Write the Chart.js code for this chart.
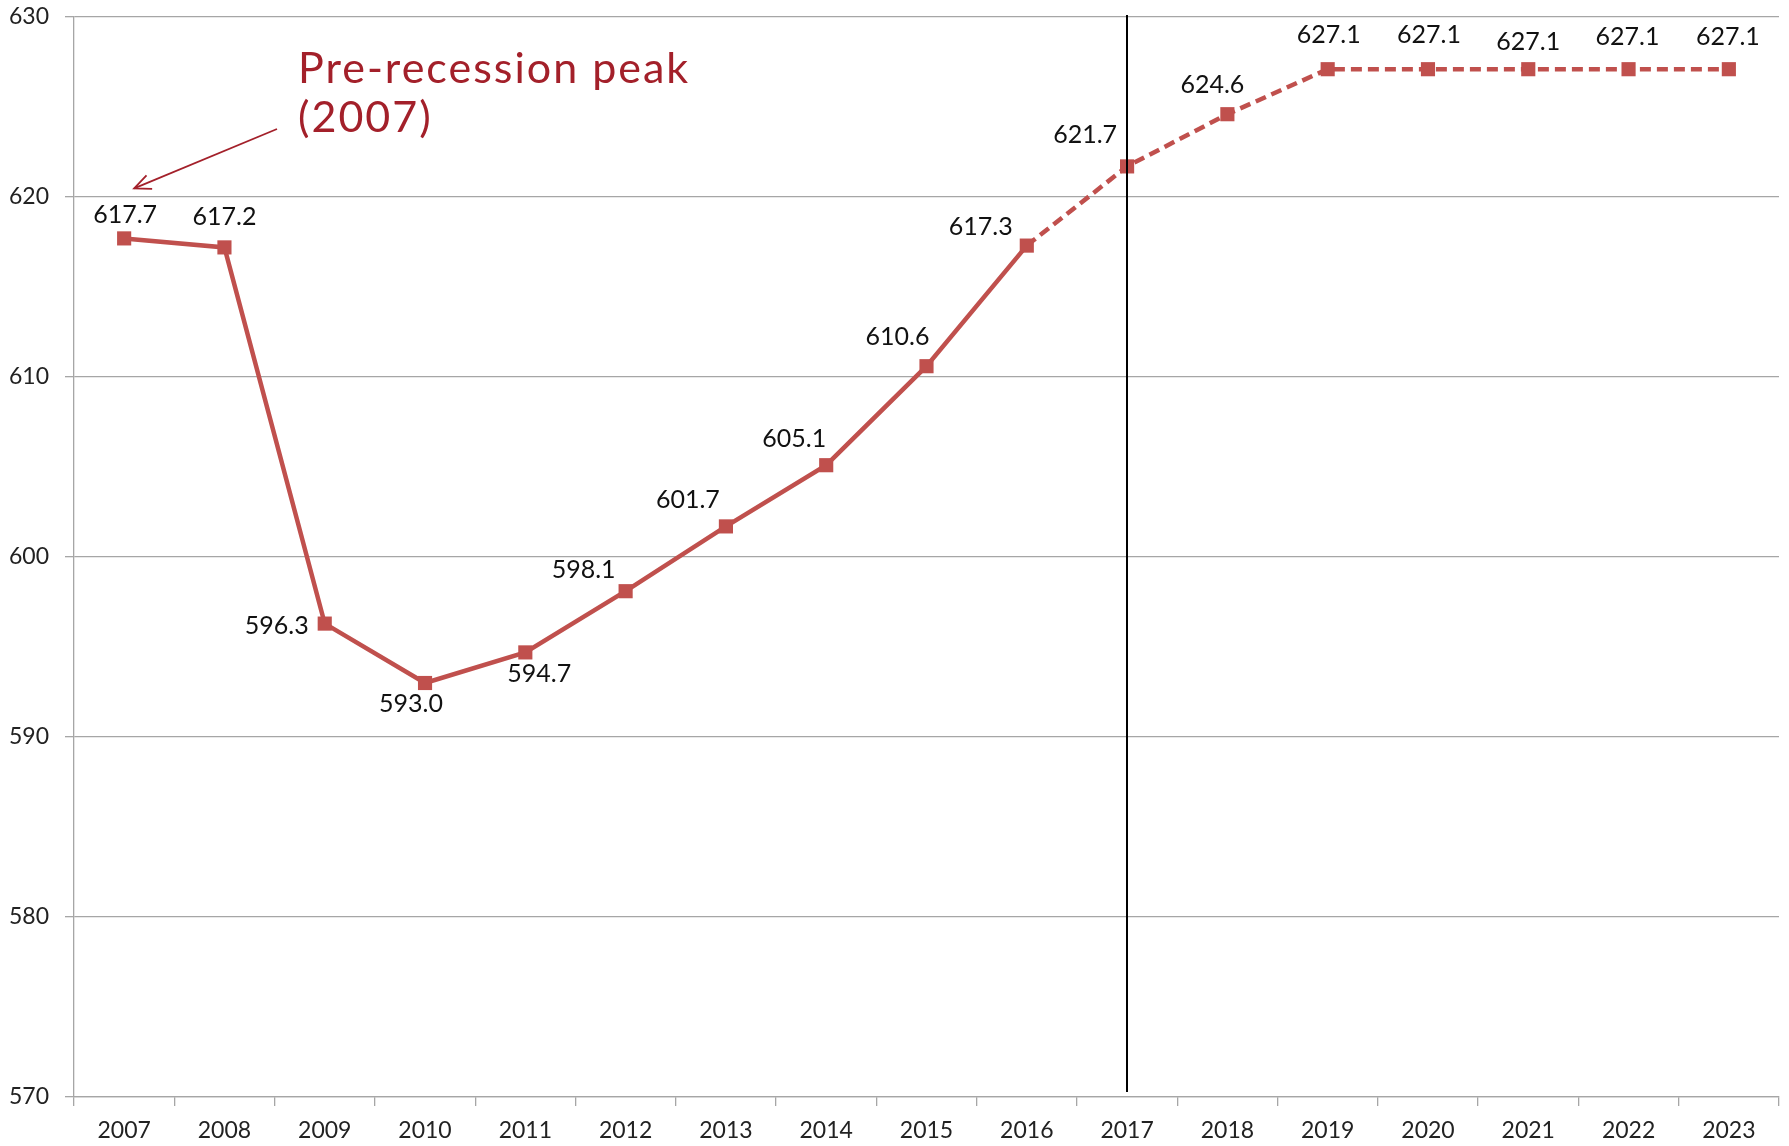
<!DOCTYPE html>
<html>
<head>
<meta charset="utf-8">
<script src="https://cdn.jsdelivr.net/npm/chart.js@4.4.1/dist/chart.umd.min.js"></script>
<style>
html,body{margin:0;padding:0;background:#fff;}
#wrap{width:1789px;height:1146px;}
</style>
</head>
<body>
<div id="wrap"><canvas id="c" width="1789" height="1146"></canvas></div>
<script>
const years = ['2007','2008','2009','2010','2011','2012','2013','2014','2015','2016','2017','2018','2019','2020','2021','2022','2023'];
const values = [617.7, 617.2, 596.3, 593.0, 594.7, 598.1, 601.7, 605.1, 610.6, 617.3, 621.7, 624.6, 627.1, 627.1, 627.1, 627.1, 627.1];
const forecastStartIndex = 9; // dashed from 2016 onward
const dividerYear = '2017';
const yTicks = [570, 580, 590, 600, 610, 620, 630];
const annotationLines = ['Pre-recession peak', '(2007)'];

// label offsets (style: where each value label sits relative to its marker)
const labelOffsets = [[1,-23],[0,-30],[-48,2],[-14,21],[14,22],[-42,-21],[-38,-26],[-32,-26],[-29,-29],[-46,-19],[-42,-31],[-15,-29],[1,-34],[1,-34],[0,-27],[-1,-32],[-1,-32]];

const RED = '#C0504D';
const FONT = 'Lato, "Open Sans", sans-serif';

const overlay = {
  id: 'overlay',
  afterDatasetsDraw(chart) {
    const ctx = chart.ctx;
    const xs = chart.scales.x;
    const area = chart.chartArea;
    // divider line
    const dx = Math.round(xs.getPixelForValue(years.indexOf(dividerYear)));
    ctx.save();
    ctx.strokeStyle = '#000';
    ctx.lineWidth = 2;
    ctx.beginPath();
    ctx.moveTo(dx, area.top - 2);
    ctx.lineTo(dx, area.bottom - 5);
    ctx.stroke();
    ctx.restore();

    // value labels
    const meta = chart.getDatasetMeta(0);
    ctx.save();
    ctx.font = '25px ' + FONT;
    ctx.fillStyle = '#111';
    ctx.textAlign = 'center';
    ctx.textBaseline = 'middle';
    meta.data.forEach((pt, i) => {
      const o = labelOffsets[i];
      ctx.fillText(values[i].toFixed(1), pt.x + o[0], pt.y + o[1]);
    });
    ctx.restore();

    // annotation
    const p0 = meta.data[0];
    ctx.save();
    ctx.fillStyle = '#A3202A';
    ctx.strokeStyle = '#A3202A';
    ctx.font = '43px ' + FONT;
    try { ctx.letterSpacing = '2px'; } catch (e) {}
    ctx.textAlign = 'left';
    ctx.textBaseline = 'middle';
    ctx.fillText(annotationLines[0], 298, 69);
    ctx.fillText(annotationLines[1], 298, 118);
    try { ctx.letterSpacing = '0px'; } catch (e) {}
    const tx = p0.x + 10, ty = p0.y - 50;
    const sx = 277, sy = 129;
    ctx.lineWidth = 1.8;
    ctx.beginPath();
    ctx.moveTo(sx, sy);
    ctx.lineTo(tx, ty);
    ctx.stroke();
    const ang = Math.atan2(ty - sy, tx - sx);
    const L = 18, A = 0.42;
    ctx.beginPath();
    ctx.moveTo(tx - L*Math.cos(ang - A), ty - L*Math.sin(ang - A));
    ctx.lineTo(tx, ty);
    ctx.lineTo(tx - L*Math.cos(ang + A), ty - L*Math.sin(ang + A));
    ctx.stroke();
    ctx.restore();
  }
};

new Chart(document.getElementById('c'), {
  type: 'line',
  data: {
    labels: years,
    datasets: [{
      data: values,
      borderColor: RED,
      backgroundColor: RED,
      borderWidth: 4.5,
      pointStyle: 'rect',
      pointRadius: 10,
      pointBorderWidth: 0,
      pointBackgroundColor: RED,
      tension: 0,
      segment: {
        borderDash: c => c.p0DataIndex >= forecastStartIndex ? [11, 6] : undefined
      }
    }]
  },
  options: {
    responsive: false,
    animation: false,
    devicePixelRatio: 1,
    layout: { padding: { top: 17, right: 8, left: 0, bottom: 0 } },
    plugins: { legend: { display: false }, tooltip: { enabled: false } },
    scales: {
      x: {
        offset: true,
        grid: { display: true, drawOnChartArea: false, drawTicks: true, tickLength: 9, color: '#a6a6a6', lineWidth: 1.3, offset: true },
        border: { color: '#a6a6a6', width: 1.3 },
        ticks: { color: '#222', font: { family: FONT, size: 23 }, padding: 11, maxRotation: 0, autoSkip: false },
        afterFit: s => { s.height = 49; s.paddingLeft = 0; s.paddingRight = 0; }
      },
      y: {
        min: 570, max: 630,
        afterBuildTicks: s => { s.ticks = yTicks.map(v => ({ value: v })); },
        grid: { color: '#a6a6a6', lineWidth: 1.3, tickLength: 9 },
        border: { color: '#a6a6a6', width: 1.3 },
        ticks: { color: '#222', font: { family: FONT, size: 23 }, padding: 16 },
        afterFit: s => { s.width = 74; s.paddingTop = 0; s.paddingBottom = 0; }
      }
    }
  },
  plugins: [overlay]
});
</script>
</body>
</html>
